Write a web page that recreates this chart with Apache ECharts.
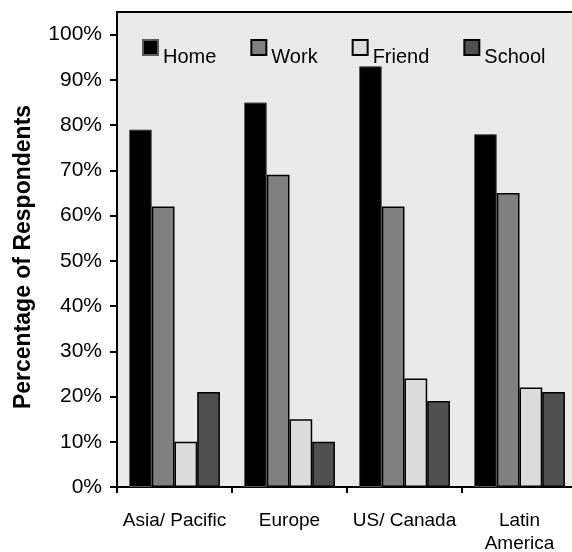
<!DOCTYPE html>
<html>
<head>
<meta charset="utf-8">
<script src="https://cdn.jsdelivr.net/npm/echarts@6/dist/echarts.min.js"></script>
<style>
  html, body { margin: 0; padding: 0; background: #fff; }
  #chart { width: 572px; height: 552px; }
</style>
</head>
<body>
<div id="chart"></div>
<script>
// Where people access the internet, by region (% of respondents)
const regions = ['Asia/ Pacific', 'Europe', 'US/ Canada', 'Latin\nAmerica'];
const homeValues = [79, 85, 93, 78];
const workValues = [62, 69, 62, 65];
const friendValues = [10, 15, 24, 22];
const schoolValues = [21, 10, 19, 21];
const percentTicks = [0, 10, 20, 30, 40, 50, 60, 70, 80, 90, 100];
const yTitle = 'Percentage of Respondents';

const FONT = 'Liberation Sans, Arial, sans-serif';

function barSeries(name, data, fill, border, borderWidth) {
  return {
    name: name,
    type: 'bar',
    data: data,
    barGap: '0%',
    barCategoryGap: '21%',
    itemStyle: { color: fill, borderColor: border, borderWidth: borderWidth },
    emphasis: { disabled: true }
  };
}

const chart = echarts.init(document.getElementById('chart'), null, { renderer: 'canvas' });

chart.setOption({
  animation: false,
  backgroundColor: '#ffffff',
  textStyle: { fontFamily: FONT },
  grid: {
    left: 117,
    top: 12,
    bottom: 65,
    width: 460,
    outerBoundsMode: 'none',
    show: true,
    backgroundColor: '#eaeaea',
    borderColor: '#000',
    borderWidth: 2
  },
  legend: {
    left: 137,
    top: 34,
    icon: 'rect',
    itemWidth: 15,
    itemHeight: 15,
    itemGap: 34,
    selectedMode: false,
    formatter: '{t|{name}}',
    textStyle: {
      fontFamily: FONT,
      color: '#000',
      rich: { t: { fontFamily: FONT, fontSize: 20, color: '#000', padding: [20, 0, 0, 0] } }
    },
    data: ['Home', 'Work', 'Friend', 'School']
  },
  xAxis: {
    type: 'category',
    data: regions,
    axisLine: { lineStyle: { color: '#000', width: 2 } },
    axisTick: { show: true, length: 6, lineStyle: { color: '#000', width: 2 } },
    axisLabel: {
      interval: 0,
      margin: 22,
      fontFamily: FONT,
      fontSize: 19,
      lineHeight: 23,
      color: '#000'
    },
    splitLine: { show: false }
  },
  yAxis: {
    type: 'value',
    min: 0,
    max: 105,
    axisLine: { show: true, lineStyle: { color: '#000', width: 2 } },
    axisTick: { show: true, length: 7, customValues: percentTicks, lineStyle: { color: '#000', width: 2 } },
    axisLabel: {
      customValues: percentTicks,
      margin: 15,
      fontFamily: FONT,
      fontSize: 21,
      color: '#000',
      formatter: v => v + '%'
    },
    splitLine: { show: false }
  },
  graphic: [{
    type: 'text',
    x: 24,
    y: 257,
    rotation: Math.PI / 2,
    style: {
      text: yTitle,
      fontFamily: FONT,
      fontSize: 23,
      fontWeight: 'bold',
      fill: '#000',
      align: 'center',
      verticalAlign: 'middle'
    }
  }],
  series: [
    barSeries('Home', homeValues, '#000000', '#5a5a5a', 1),
    barSeries('Work', workValues, '#808080', '#000000', 1.5),
    barSeries('Friend', friendValues, '#dcdcdc', '#000000', 1.5),
    barSeries('School', schoolValues, '#505050', '#000000', 1.5)
  ]
});
</script>
</body>
</html>
